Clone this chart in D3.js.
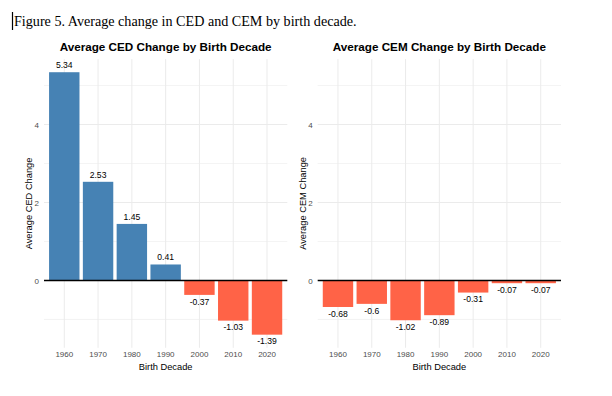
<!DOCTYPE html>
<html>
<head>
<meta charset="utf-8">
<script src="https://cdn.jsdelivr.net/npm/d3@7"></script>
<style>
  html, body { margin: 0; padding: 0; background: #fff; }
  text { font-family: "Liberation Sans", Arial, sans-serif; }
</style>
</head>
<body>
<svg id="chart" width="612" height="396"></svg>
<script>
// data
const decades = ['1960', '1970', '1980', '1990', '2000', '2010', '2020'];
const cedChange = [5.34, 2.53, 1.45, 0.41, -0.37, -1.03, -1.39];
const cemChange = [-0.68, -0.6, -1.02, -0.89, -0.31, -0.07, -0.07];
const yMajorTicks = [0, 2, 4];
const yMinorTicks = [-1, 1, 3, 5];

const posColor = '#4682B4';
const negColor = '#FF6347';
const gridColor = '#EBEBEB';

const svg = d3.select('#chart');

// caption, serif like the document body
const caption = svg.append('text')
  .attr('x', 14).attr('y', 25.5)
  .style('font-family', '"Liberation Serif", "Times New Roman", serif')
  .style('font-size', '15px')
  .attr('fill', '#000')
  .text('Figure 5. Average change in CED and CEM by birth decade.');
// fit caption to its width in the picture
const capW = caption.node().getComputedTextLength();
caption.style('font-size', (15 * 343 / capW) + 'px');

// text cursor in front of the caption
svg.append('line')
  .attr('x1', 12.5).attr('x2', 12.5)
  .attr('y1', 12).attr('y2', 30)
  .attr('stroke', '#000').attr('stroke-width', 1.2);

// shared y range across both panels (ggplot 5% expansion of CED range)
const allVals = cedChange.concat(cemChange);
const yMin = d3.min(allVals), yMax = d3.max(allVals);
const pad = (yMax - yMin) * 0.05;
const yScale = d3.scaleLinear()
  .domain([yMin - pad, yMax + pad])
  .range([347.8, 59.1]);

function drawPanel(left, right, values, title, yTitle) {
  const x = d3.scaleBand()
    .domain(decades)
    .range([left, right])
    .paddingInner(0.1)
    .paddingOuter(0.15);

  const g = svg.append('g');
  const [yBottom, yTop] = yScale.range();

  // minor horizontal grid
  g.selectAll('.minor')
    .data(yMinorTicks)
    .join('line')
      .attr('x1', left).attr('x2', right)
      .attr('y1', d => yScale(d)).attr('y2', d => yScale(d))
      .attr('stroke', gridColor).attr('stroke-width', 0.6);

  // major horizontal grid
  g.selectAll('.major')
    .data(yMajorTicks)
    .join('line')
      .attr('x1', left).attr('x2', right)
      .attr('y1', d => yScale(d)).attr('y2', d => yScale(d))
      .attr('stroke', gridColor).attr('stroke-width', 1);

  // vertical grid at each decade
  g.selectAll('.vgrid')
    .data(decades)
    .join('line')
      .attr('x1', d => x(d) + x.bandwidth() / 2)
      .attr('x2', d => x(d) + x.bandwidth() / 2)
      .attr('y1', yTop).attr('y2', yBottom)
      .attr('stroke', gridColor).attr('stroke-width', 1);

  // bars
  g.selectAll('rect')
    .data(values)
    .join('rect')
      .attr('x', (d, i) => x(decades[i]))
      .attr('width', x.bandwidth())
      .attr('y', d => yScale(Math.max(0, d)))
      .attr('height', d => Math.abs(yScale(d) - yScale(0)))
      .attr('fill', d => d >= 0 ? posColor : negColor);

  // zero line
  g.append('line')
    .attr('x1', left).attr('x2', right)
    .attr('y1', yScale(0)).attr('y2', yScale(0))
    .attr('stroke', '#000').attr('stroke-width', 1.5);

  // value labels
  g.selectAll('.val')
    .data(values)
    .join('text')
      .attr('x', (d, i) => x(decades[i]) + x.bandwidth() / 2)
      .attr('y', d => d >= 0 ? yScale(d) - 4 : yScale(d) + 9.8)
      .attr('text-anchor', 'middle')
      .style('font-size', '8.6px')
      .attr('fill', '#000')
      .text(d => String(d));

  // y axis labels (no axis line)
  const yAxis = d3.axisLeft(yScale).tickValues(yMajorTicks).tickSize(0).tickPadding(5);
  const ya = g.append('g').attr('transform', `translate(${left},0)`).call(yAxis);
  ya.select('.domain').remove();
  ya.selectAll('text')
    .style('font-family', '"Liberation Sans", Arial, sans-serif')
    .style('font-size', '8px')
    .attr('fill', '#4D4D4D');

  // x axis labels
  const xAxis = d3.axisBottom(x).tickSize(0).tickPadding(0);
  const xa = g.append('g').attr('transform', `translate(0,${yBottom + 2})`).call(xAxis);
  xa.select('.domain').remove();
  xa.selectAll('text')
    .attr('dy', null).attr('y', 7.5)
    .style('font-family', '"Liberation Sans", Arial, sans-serif')
    .style('font-size', '8px')
    .attr('fill', '#4D4D4D');

  const cx = (left + right) / 2;

  // panel title
  g.append('text')
    .attr('x', cx).attr('y', 50.5)
    .attr('text-anchor', 'middle')
    .style('font-size', '11.7px').style('font-weight', 'bold')
    .attr('fill', '#000')
    .text(title);

  // x title
  g.append('text')
    .attr('x', cx).attr('y', 369.5)
    .attr('text-anchor', 'middle')
    .style('font-size', '9.3px')
    .attr('fill', '#000')
    .text('Birth Decade');

  // y title
  g.append('text')
    .attr('transform', `translate(${left - 12},${(yTop + yBottom) / 2}) rotate(-90)`)
    .attr('text-anchor', 'middle')
    .style('font-size', '9.3px')
    .attr('fill', '#000')
    .text(yTitle);
}

drawPanel(44, 287.3, cedChange, 'Average CED Change by Birth Decade', 'Average CED Change');
drawPanel(317.7, 561, cemChange, 'Average CEM Change by Birth Decade', 'Average CEM Change');
</script>
</body>
</html>
